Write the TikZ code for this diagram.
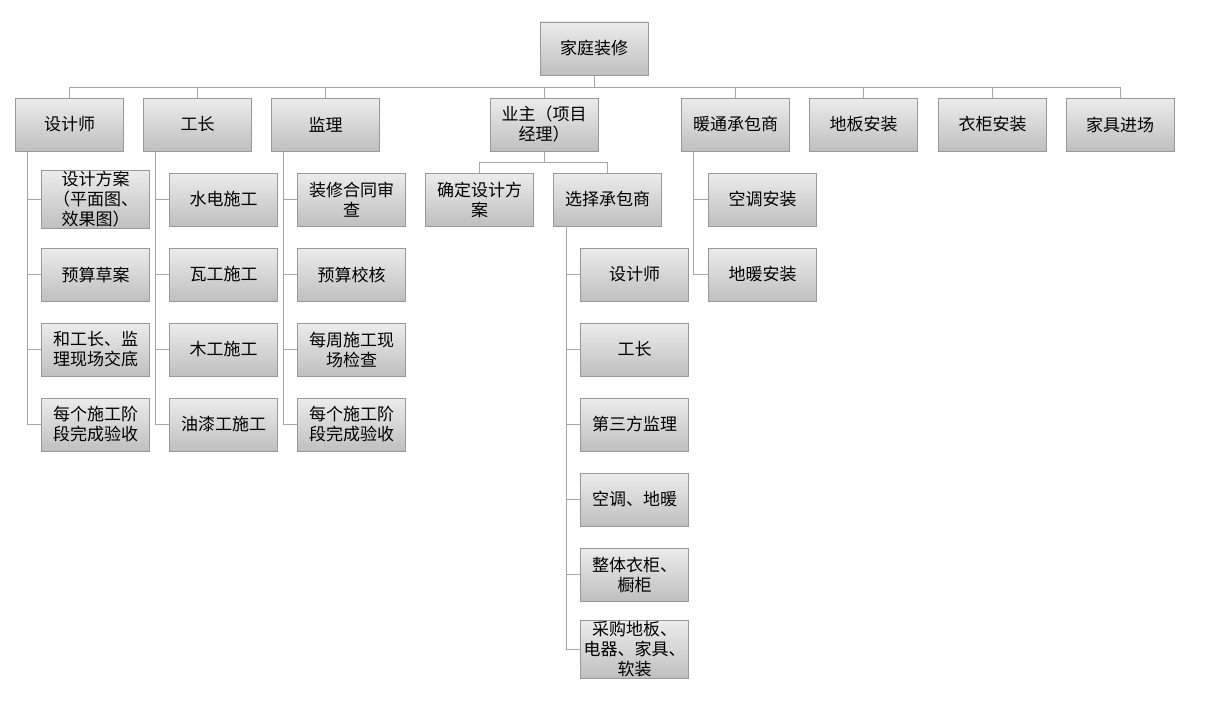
\documentclass[tikz,border=0pt]{standalone}
\usepackage{fontspec}
\newfontfamily\cjk{Noto Sans CJK SC}
\begin{document}
\begin{tikzpicture}[x=1pt,y=-1pt,
 bx/.style={draw=gray!80,top color=gray!15,bottom color=gray!50,minimum width=107pt,minimum height=53pt,inner sep=1pt,align=center,font=\cjk\fontsize{17}{20}\selectfont,text width=106pt},
 ln/.style={draw=gray!70,line width=0.8pt}]
\useasboundingbox (0,0) rectangle (1212,717);
\node[bx] (r) at (594,48.5) {家庭装修};
\node[bx] (a) at (69.5,124.5) {设计师};
\node[bx] (b) at (197.5,124.5) {工长};
\node[bx] (c) at (325.5,124.5) {监理};
\node[bx] (d) at (544,124.5) {业主（项目\\经理）};
\node[bx] (e) at (735.5,124.5) {暖通承包商};
\node[bx] (f) at (863.5,124.5) {地板安装};
\node[bx] (g) at (992.5,124.5) {衣柜安装};
\node[bx] (h) at (1120,124.5) {家具进场};
\draw[ln] (r.south) -- (594,87);
\draw[ln] (69.5,87) -- (1120,87);
\foreach \n in {a,b,c,d,e,f,g,h} \draw[ln] (\n.north) -- (\n.north|-0,87);
\foreach \i [count=\k] in {{设计方案\\（平面图、\\效果图）},预算草案,{和工长、监\\理现场交底},{每个施工阶\\段完成验收}}
 \node[bx] (a\k) at (95.5,124.5+75*\k) {\i};
\foreach \i [count=\k] in {水电施工,瓦工施工,木工施工,油漆工施工}
 \node[bx] (b\k) at (223.5,124.5+75*\k) {\i};
\foreach \i [count=\k] in {{装修合同审\\查},预算校核,{每周施工现\\场检查},{每个施工阶\\段完成验收}}
 \node[bx] (c\k) at (351.5,124.5+75*\k) {\i};
\draw[ln] (27,151) -- (27,425);
\draw[ln] (155,151) -- (155,425);
\draw[ln] (283,151) -- (283,425);
\foreach \k in {1,...,4}{
 \draw[ln] (27,124.5+75*\k) -- (a\k.west);
 \draw[ln] (155,124.5+75*\k) -- (b\k.west);
 \draw[ln] (283,124.5+75*\k) -- (c\k.west);}
\node[bx] (d1) at (479.5,199.5) {确定设计方\\案};
\node[bx] (d2) at (607.5,199.5) {选择承包商};
\draw[ln] (d.south) -- (544,162);
\draw[ln] (479.5,162) -- (607.5,162);
\draw[ln] (d1.north) -- (479.5,162);
\draw[ln] (d2.north) -- (607.5,162);
\foreach \i [count=\k] in {设计师,工长,第三方监理,{空调、地暖},{整体衣柜、\\橱柜},{采购地板、\\电器、家具、\\软装}}
 \node[bx] (s\k) at (634.5,199.5+75*\k) {\i};
\draw[ln] (566,226) -- (566,650);
\foreach \k in {1,...,6} \draw[ln] (566,199.5+75*\k) -- (s\k.west);
\node[bx] (e1) at (762.5,199.5) {空调安装};
\node[bx] (e2) at (762.5,274.5) {地暖安装};
\draw[ln] (693,151) -- (693,274.5);
\draw[ln] (693,199.5) -- (e1.west);
\draw[ln] (693,274.5) -- (e2.west);
\end{tikzpicture}
\end{document}
